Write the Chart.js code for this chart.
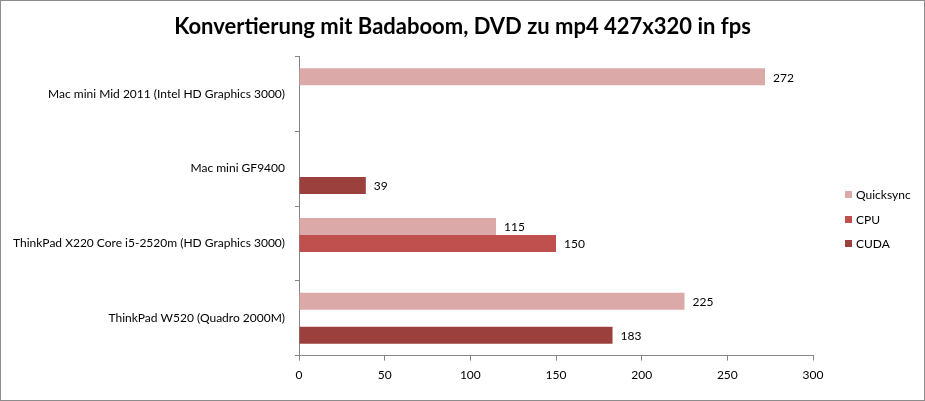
<!DOCTYPE html>
<html>
<head>
<meta charset="utf-8">
<script src="https://cdn.jsdelivr.net/npm/chart.js@4"></script>
<style>
    body { margin: 0; background: #fff; }
    #moldura {
        position: relative;
        width: 925px;
        height: 401px;
        box-sizing: border-box;
        border: 1px solid #8c8c8c;
        background: #fff;
    }
</style>
</head>
<body>
<div id="moldura"><canvas id="grafico"></canvas></div>
<script>
// Dados do gráfico
const categorias = [
    'Mac mini Mid 2011 (Intel HD Graphics 3000)',
    'Mac mini GF9400',
    'ThinkPad X220 Core i5-2520m (HD Graphics 3000)',
    'ThinkPad W520 (Quadro 2000M)'
];
const series = ['Quicksync', 'CPU', 'CUDA'];
const valoresQuicksync = [272, null, 115, 225];
const valoresCPU = [null, null, 150, null];
const valoresCUDA = [null, 39, null, 183];
const ticksX = [0, 50, 100, 150, 200, 250, 300];

const fonte = 'Lato, "Open Sans", sans-serif';

// Rótulos de valor no fim de cada barra
const rotulosBarras = {
    id: 'rotulosBarras',
    afterDatasetsDraw: (chart) => {
        const ctx = chart.ctx;
        ctx.save();
        ctx.font = '12px ' + fonte;
        ctx.fillStyle = '#000';
        ctx.textBaseline = 'middle';
        ctx.textAlign = 'left';
        chart.data.datasets.forEach((ds, i) => {
            const meta = chart.getDatasetMeta(i);
            meta.data.forEach((bar, j) => {
                const valor = ds.data[j];
                if (valor === null || valor === undefined) return;
                ctx.fillText(String(valor), bar.x + 8, bar.y + 1);
            });
        });
        ctx.restore();
    }
};

// Legenda desenhada à direita da área do gráfico
const legendaDireita = {
    id: 'legendaDireita',
    afterDraw: (chart) => {
        const ctx = chart.ctx;
        const area = chart.chartArea;
        const espaco = 24.5;
        const total = chart.data.datasets.length;
        const yInicio = (area.top + area.bottom) / 2 + 14 - espaco * (total - 1) / 2;
        const x = area.right + 32;
        ctx.save();
        ctx.font = '12px ' + fonte;
        ctx.textBaseline = 'middle';
        ctx.textAlign = 'left';
        chart.data.datasets.forEach((ds, i) => {
            const y = yInicio + i * espaco;
            ctx.fillStyle = ds.backgroundColor;
            ctx.fillRect(x, Math.round(y - 4), 7, 7);
            ctx.fillStyle = '#000';
            ctx.fillText(ds.label, x + 11, y);
        });
        ctx.restore();
    }
};

const ctx = document.getElementById('grafico').getContext('2d');
window.grafico = new Chart(ctx, {
    type: 'bar',
    data: {
        labels: categorias,
        datasets: [
            { label: series[0], data: valoresQuicksync, backgroundColor: '#DAA9A8' },
            { label: series[1], data: valoresCPU, backgroundColor: '#C0504D' },
            { label: series[2], data: valoresCUDA, backgroundColor: '#9C403E' }
        ]
    },
    options: {
        indexAxis: 'y',
        responsive: true,
        maintainAspectRatio: false,
        animation: false,
        devicePixelRatio: 1,
        layout: { padding: { left: 0, right: 0, top: 0, bottom: 11 } },
        datasets: {
            bar: { categoryPercentage: 0.68, barPercentage: 1.0, skipNull: false }
        },
        scales: {
            x: {
                min: 0,
                max: 300,
                afterBuildTicks: (axis) => { axis.ticks = ticksX.map(v => ({ value: v })); },
                grid: { drawOnChartArea: false, tickLength: 5, color: '#868686' },
                border: { color: '#868686' },
                ticks: { color: '#000', font: { family: fonte, size: 12 }, padding: 7 }
            },
            y: {
                afterFit: (axis) => { axis.width = 298; },
                grid: { drawOnChartArea: false, tickLength: 4, color: '#868686', offset: true },
                border: { color: '#868686' },
                ticks: { color: '#000', font: { family: fonte, size: 12 }, padding: 10 }
            },
            // Eixo vazio só para reservar o espaço da legenda
            espacoLegenda: {
                type: 'category',
                position: 'right',
                afterFit: (axis) => { axis.width = 111; },
                grid: { display: false },
                border: { display: false },
                ticks: { display: false }
            }
        },
        plugins: {
            title: {
                display: true,
                text: 'Konvertierung mit Badaboom, DVD zu mp4 427x320 in fps',
                color: '#000',
                font: { family: fonte, size: 22, weight: 'bold' },
                padding: { top: 13, bottom: 16 }
            },
            legend: { display: false },
            tooltip: { enabled: false }
        }
    },
    plugins: [rotulosBarras, legendaDireita]
});
</script>
</body>
</html>
